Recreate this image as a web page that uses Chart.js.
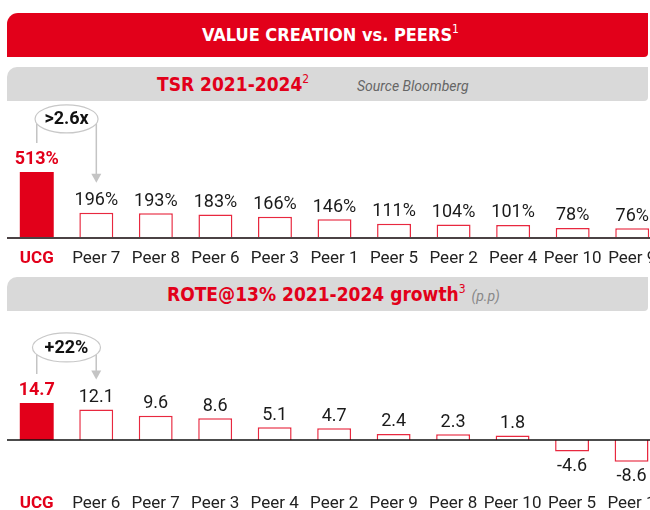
<!DOCTYPE html>
<html>
<head>
<meta charset="utf-8">
<script src="https://cdn.jsdelivr.net/npm/chart.js@4.4.1/dist/chart.umd.min.js"></script>
<style>
  html, body { margin: 0; padding: 0; background: #fff; }
  body { width: 650px; height: 510px; overflow: hidden; position: relative; font-family: Roboto, sans-serif; }
  .band { position: absolute; left: 7px; width: 641px; box-sizing: border-box; }
  .red { top: 13px; height: 44px; background: #e2001a; border-radius: 11px 0 4px 0; color: #fff;
         font: bold 18px "DejaVu Sans Condensed", Roboto, sans-serif; line-height: 44px; }
  .grey { height: 34px; background: #d9d9d9; border-radius: 10px 0 4px 0;
          font: bold 19px "DejaVu Sans Condensed", Roboto, sans-serif; line-height: 34px; color: #e2001a; }
  .band span { position: absolute; white-space: nowrap; }
  sup { font-size: 12px; font-weight: normal; vertical-align: 8px; line-height: 0; }
  .src { font: italic 14px Roboto, sans-serif; line-height: 34px; color: #666; }
  canvas { position: absolute; left: 0; }
</style>
</head>
<body>
<div class="band red"><span style="left:195px">VALUE CREATION vs. PEERS<sup>1</sup></span></div>
<div class="band grey" style="top:67px"><span style="left:150px">TSR 2021-2024<sup>2</sup></span><span class="src" style="left:350px;top:2px">Source Bloomberg</span></div>
<div class="band grey" style="top:277px"><span style="left:160px">ROTE@13% 2021-2024 growth<sup>3</sup> <span class="src" style="position:static;color:#888">(p.p)</span></span></div>

<canvas id="tsrChart" width="670" height="175" style="top:100px"></canvas>
<canvas id="roteChart" width="670" height="203" style="top:318px"></canvas>

<script>
const RED = '#e2001a'

// TSR 2021-2024
const tsrLabels = ['UCG', 'Peer 7', 'Peer 8', 'Peer 6', 'Peer 3', 'Peer 1', 'Peer 5', 'Peer 2', 'Peer 4', 'Peer 10', 'Peer 9']
const tsrValues = [513, 196, 193, 183, 166, 146, 111, 104, 101, 78, 76]

// ROTE@13% 2021-2024 growth (p.p)
const roteLabels = ['UCG', 'Peer 6', 'Peer 7', 'Peer 3', 'Peer 4', 'Peer 2', 'Peer 9', 'Peer 8', 'Peer 10', 'Peer 5', 'Peer 1']
const roteValues = [14.7, 12.1, 9.6, 8.6, 5.1, 4.7, 2.4, 2.3, 1.8, -4.6, -8.6]

Chart.defaults.font.family = 'Roboto, sans-serif'
Chart.defaults.animation = false

// value labels + zero line
const valuePlugin = {
    id: 'values',
    afterDatasetsDraw(chart, args, opts) {
        const c = chart.ctx
        const area = chart.chartArea
        const y0 = chart.scales.y.getPixelForValue(0)
        c.save()
        c.strokeStyle = opts.lineColor
        c.lineWidth = opts.lineWidth
        c.beginPath()
        c.moveTo(area.left, y0)
        c.lineTo(area.right, y0)
        c.stroke()

        const data = chart.data.datasets[0].data
        chart.getDatasetMeta(0).data.forEach(function (bar, i) {
            const v = data[i]
            c.font = (i === 0 ? 'bold ' : '') + '18px Roboto, sans-serif'
            c.fillStyle = i === 0 ? RED : '#1a1a1a'
            c.textAlign = 'center'
            if (v >= 0) {
                c.textBaseline = 'bottom'
                c.fillText(opts.format(v), bar.x, bar.y - 3)
            } else {
                c.textBaseline = 'top'
                c.fillText(opts.format(v), bar.x, bar.y + 6)
            }
        })
        c.restore()
    }
}

// ellipse with arrow from UCG to first peer
const bracketPlugin = {
    id: 'bracket',
    afterDatasetsDraw(chart, args, opts) {
        const c = chart.ctx
        const bars = chart.getDatasetMeta(0).data
        const x0 = bars[0].x
        const x1 = bars[1].x
        const cx = (x0 + x1) / 2
        const cy = bars[0].y - opts.lift
        const rx = opts.rx, ry = opts.ry
        const dx = (x1 - x0) / 2
        const edge = cy + ry * Math.sqrt(Math.max(0, 1 - (dx * dx) / (rx * rx)))
        c.save()
        c.strokeStyle = '#c4c4c4'
        c.fillStyle = '#c4c4c4'
        c.lineWidth = 1.5
        c.beginPath()
        c.moveTo(x0, edge)
        c.lineTo(x0, bars[0].y - 29)
        c.moveTo(x1, edge)
        c.lineTo(x1, bars[1].y - 38)
        c.stroke()
        const tip = bars[1].y - 30
        c.beginPath()
        c.moveTo(x1 - 5, tip - 9)
        c.lineTo(x1 + 5, tip - 9)
        c.lineTo(x1, tip)
        c.closePath()
        c.fill()

        c.beginPath()
        c.ellipse(cx, cy, rx, ry, 0, 0, Math.PI * 2)
        c.fillStyle = '#fff'
        c.fill()
        c.lineWidth = 1.2
        c.strokeStyle = '#c8c8c8'
        c.stroke()
        c.fillStyle = '#111'
        c.font = 'bold 18px Roboto, sans-serif'
        c.textAlign = 'center'
        c.textBaseline = 'middle'
        c.fillText(opts.text, cx, cy + 1)
        c.restore()
    }
}

const makeChart = function (id, labels, values, yMin, yMax, fmt, bracket, line, pad, axisHeight) {
    return new Chart(document.getElementById(id), {
        type: 'bar',
        data: {
            labels: labels,
            datasets: [{
                data: values,
                backgroundColor: labels.map((l, i) => i === 0 ? RED : '#fff'),
                borderColor: labels.map((l, i) => i === 0 ? RED : '#e8283f'),
                borderWidth: labels.map((l, i) => i === 0 ? 0 : 1.5),
                categoryPercentage: 1,
                barPercentage: 0.57
            }]
        },
        options: {
            responsive: false,
            maintainAspectRatio: false,
            devicePixelRatio: 1,
            layout: { padding: { left: 7, right: 8, top: 0, bottom: 0 } },
            plugins: {
                legend: { display: false },
                tooltip: { enabled: false },
                values: { format: fmt, lineColor: line.color, lineWidth: line.width },
                bracket: bracket
            },
            scales: {
                x: {
                    grid: { display: false, drawTicks: false },
                    border: { display: false },
                    afterFit: scale => { scale.height = axisHeight },
                    ticks: {
                        padding: pad,
                        autoSkip: false,
                        maxRotation: 0,
                        minRotation: 0,
                        color: ctx => ctx.index === 0 ? RED : '#222',
                        font: ctx => ({ size: 17, weight: ctx.index === 0 ? 'bold' : 'normal' })
                    }
                },
                y: { display: false, min: yMin, max: yMax }
            }
        },
        plugins: [valuePlugin, bracketPlugin]
    })
}

makeChart('tsrChart', tsrLabels, tsrValues, 0, 1072, v => v + '%',
    { text: '>2.6x', lift: 53, rx: 31.5, ry: 14 }, { color: '#4b4244', width: 2 }, 11, 37)
makeChart('roteChart', roteLabels, roteValues, -15.87, 48.4, v => v.toFixed(1),
    { text: '+22%', lift: 55.5, rx: 34, ry: 14.5 }, { color: '#111', width: 1.5 }, 14, 41)
</script>
</body>
</html>
